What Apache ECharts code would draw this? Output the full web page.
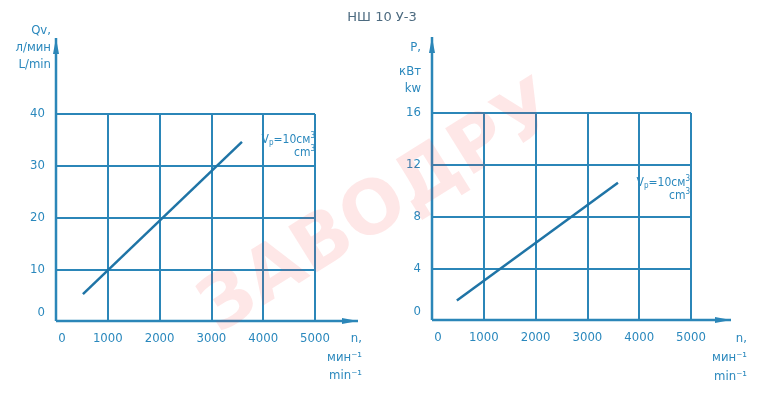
<!DOCTYPE html>
<html>
<head>
<meta charset="utf-8">
<script src="https://cdn.jsdelivr.net/npm/echarts@6/dist/echarts.min.js"></script>
<style>html,body{margin:0;padding:0;background:#fff}#c{width:764px;height:400px}</style>
</head>
<body>
<div id="c"></div>
<script>
// ---- data ----
const title = 'НШ 10 У-3';
const xTicks = [0, 1000, 2000, 3000, 4000, 5000];
const flowTicks = [0, 10, 20, 30, 40];
const powerTicks = [0, 4, 8, 12, 16];
const flowLine = [[520, 5.2], [3590, 34.6]];   // n (min^-1), Qv (L/min)
const powerLine = [[480, 1.5], [3590, 10.6]];  // n (min^-1), P (kW)
const flowYName = ['Qv,', 'л/мин', 'L/min'];
const powerYName = ['P,', 'кВт', 'kw'];
const xName = ['n,', 'мин⁻¹', 'min⁻¹'];

const BLUE = '#2b86b8';
const LINE = '#1f74a6';
const TXT = '#2a88bd';
const FONT = 'DejaVu Sans Condensed';

const chart = echarts.init(document.getElementById('c'), null, {renderer: 'canvas'});

function xAxis(gi) {
  return {
    type: 'value', gridIndex: gi, min: xTicks[0], max: xTicks[xTicks.length - 1], interval: 1000,
    axisLine: {show: false}, axisTick: {show: false},
    splitLine: {show: true, lineStyle: {color: BLUE, width: 2}},
    axisLabel: {
      margin: 11, color: TXT, fontFamily: FONT, fontSize: 13, showMaxLabel: true, showMinLabel: true,
      formatter: v => v === 0 ? '{z|0}' : String(v),
      rich: {z: {padding: [0, 0, 0, 12], color: TXT, fontFamily: FONT, fontSize: 13}}
    }
  };
}
function yAxis(gi, ticks) {
  return {
    type: 'value', gridIndex: gi, min: ticks[0], max: ticks[ticks.length - 1], interval: ticks[1] - ticks[0],
    axisLine: {show: false}, axisTick: {show: false},
    splitLine: {show: true, lineStyle: {color: BLUE, width: 2}},
    axisLabel: {
      margin: 11, color: TXT, fontFamily: FONT, fontSize: 13,
      formatter: v => v === 0 ? '{z|0}' : String(v),
      rich: {z: {padding: [0, 0, 16, 0], color: TXT, fontFamily: FONT, fontSize: 13}}
    }
  };
}

const option = {
  animation: false,
  backgroundColor: '#fff',
  title: {
    text: title, left: 'center', top: 6,
    textStyle: {color: '#4d6b80', fontSize: 13, fontWeight: 'normal', fontFamily: 'DejaVu Sans'}
  },
  grid: [
    {left: 56, top: 114, width: 259, height: 207},
    {left: 432, top: 113, width: 259, height: 207}
  ],
  xAxis: [xAxis(0), xAxis(1)],
  yAxis: [yAxis(0, flowTicks), yAxis(1, powerTicks)],
  series: [
    {type: 'line', xAxisIndex: 0, yAxisIndex: 0, data: flowLine, symbol: 'none',
     lineStyle: {color: LINE, width: 2.5}, z: 5},
    {type: 'line', xAxisIndex: 1, yAxisIndex: 1, data: powerLine, symbol: 'none',
     lineStyle: {color: LINE, width: 2.5}, z: 5}
  ]
};
chart.setOption(option);

function px(gi, pt) { return chart.convertToPixel({gridIndex: gi}, pt); }

const g = [];
function axesFor(gi, topY, xEnd) {
  const o = px(gi, [0, 0]);
  g.push({type: 'line', shape: {x1: o[0], y1: o[1], x2: o[0], y2: topY}, style: {stroke: BLUE, lineWidth: 2.5}, z: 10});
  g.push({type: 'polygon', shape: {points: [[o[0] - 3, topY + 16], [o[0] + 3, topY + 16], [o[0], topY]]}, style: {fill: BLUE}, z: 10});
  g.push({type: 'line', shape: {x1: o[0], y1: o[1], x2: xEnd, y2: o[1]}, style: {stroke: BLUE, lineWidth: 2.5}, z: 10});
  g.push({type: 'polygon', shape: {points: [[xEnd - 16, o[1] - 3], [xEnd - 16, o[1] + 3], [xEnd, o[1]]]}, style: {fill: BLUE}, z: 10});
}
axesFor(0, 38, 358);
axesFor(1, 37, 731);

function nameLines(lines, xRight, ys) {
  lines.forEach((t, i) => g.push({
    type: 'text', x: xRight, y: ys[i],
    style: {text: t, fill: TXT, font: '13px "' + FONT + '"', align: 'right', verticalAlign: 'middle'}, z: 10
  }));
}
nameLines(flowYName, 51, [31, 48, 65]);
nameLines(powerYName, 421, [48, 72, 89]);
nameLines(xName, 362, [339, 358, 376]);
nameLines(xName, 747, [339, 358, 377]);

function vp(x, y) {
  g.push({type: 'text', x: x, y: y, z: 10, style: {
    text: '{a|V}{s|p}{a|=10см}{u|3}\n{a|cm}{u|3}', align: 'right', verticalAlign: 'top',
    rich: {
      a: {fill: TXT, fontFamily: FONT, fontSize: 12, lineHeight: 13},
      s: {fill: TXT, fontFamily: FONT, fontSize: 8, padding: [6, 0, 0, 0], lineHeight: 13},
      u: {fill: TXT, fontFamily: FONT, fontSize: 8, padding: [0, 0, 7, 0], lineHeight: 13}
    }
  }});
}
vp(315, 133);
vp(690, 176);

g.push({
  type: 'text', x: 380, y: 210, rotation: 32 * Math.PI / 180, z: 20,
  style: {text: 'ЗАВОДРУ', fill: 'rgba(245,60,60,0.12)', font: 'bold 74px "DejaVu Sans"', align: 'center', verticalAlign: 'middle'}
});

chart.setOption({graphic: g});
</script>
</body>
</html>
